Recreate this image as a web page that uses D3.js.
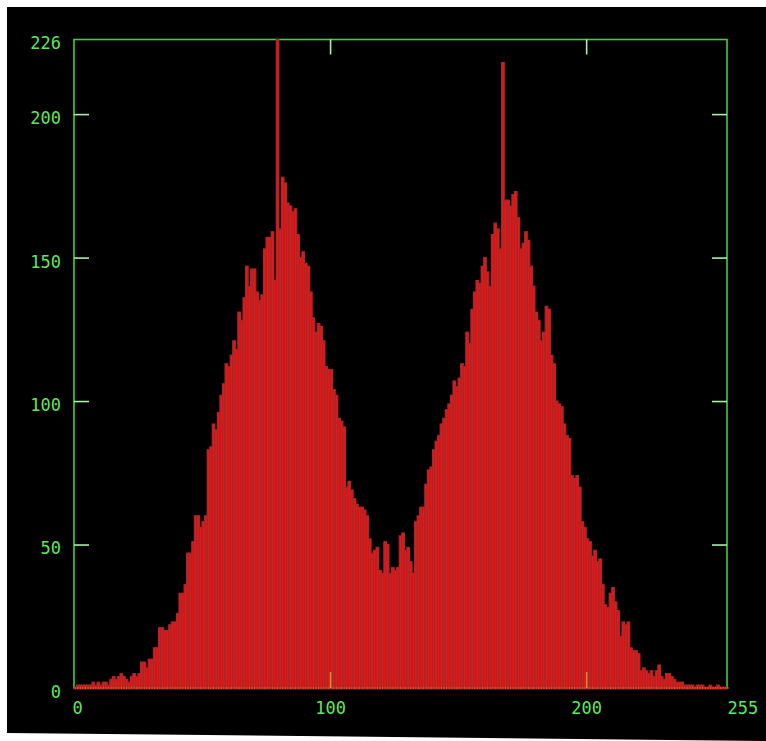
<!DOCTYPE html>
<html>
<head>
<meta charset="utf-8">
<script src="https://cdn.jsdelivr.net/npm/d3@7/dist/d3.min.js"></script>
<style>
  html, body { margin: 0; padding: 0; background: #ffffff; }
  svg { display: block; }
</style>
</head>
<body>
<svg id="chart" width="766" height="741"></svg>
<script>
// Histogram counts for intensity 0..255
const counts = [
  0, 1, 1, 1, 1, 1, 1, 2, 1, 2,
  1, 2, 2, 1, 3, 4, 3, 4, 5, 4,
  3, 2, 4, 5, 4, 5, 9, 9, 7, 10,
  10, 14, 14, 21, 21, 20, 20, 22, 23, 23,
  26, 33, 33, 36, 47, 47, 51, 60, 60, 56,
  58, 60, 83, 84, 92, 90, 96, 102, 106, 113,
  112, 116, 121, 118, 131, 128, 136, 147, 140, 146,
  146, 138, 135, 137, 153, 157, 157, 159, 142, 226,
  160, 178, 176, 169, 168, 166, 167, 158, 150, 152,
  148, 147, 138, 129, 124, 127, 126, 121, 112, 111,
  111, 104, 102, 94, 93, 91, 70, 72, 69, 66,
  64, 63, 63, 62, 60, 52, 47, 48, 49, 41,
  40, 51, 50, 40, 42, 41, 42, 53, 54, 48,
  49, 44, 40, 58, 60, 63, 63, 71, 76, 77,
  83, 86, 88, 92, 94, 97, 99, 102, 107, 105,
  108, 113, 112, 124, 120, 132, 138, 142, 141, 147,
  150, 145, 140, 158, 162, 160, 153, 218, 170, 170,
  168, 172, 173, 164, 153, 155, 159, 156, 147, 140,
  131, 128, 121, 124, 133, 132, 116, 113, 100, 99,
  98, 92, 88, 87, 74, 73, 74, 70, 58, 56,
  52, 51, 46, 48, 44, 45, 36, 29, 28, 33,
  35, 30, 27, 18, 23, 22, 23, 14, 13, 13,
  12, 6, 7, 6, 5, 6, 4, 6, 8, 4,
  3, 5, 5, 4, 3, 2, 2, 2, 1, 1,
  1, 1, 0, 1, 1, 1, 0, 0, 1, 0,
  0, 1, 0, 0, 0, 0
];
const yTickLabels = [0, 50, 100, 150, 200, 226];
const yInnerTicks = [50, 100, 150, 200];
const xTickLabels = [0, 100, 200, 255];
const xInnerTicks = [100, 200];

(function () {
const svg = d3.select("#chart");
const W = 766, H = 741;
const mLeft = 74, mRight = 727, mTop = 39.5, mBottom = 688;

// background (scanned black panel)
svg.append("polygon")
  .attr("points", `7,7 ${W},7 ${W},${H} 7,733`)
  .attr("fill", "#000");

const x = d3.scaleLinear().domain([0, 255]).range([mLeft, mRight]);
const y = d3.scaleLinear().domain([0, 226]).range([mBottom, mTop]);
const bw = x(1) - x(0);

const axisColor = "#3fcf3f";
const tickColor = "#a8f0a8";
const labelColor = "#5ee65e";
const font = "'DejaVu Sans Mono', monospace";

// frame
svg.append("rect")
  .attr("x", mLeft).attr("y", mTop)
  .attr("width", mRight - mLeft).attr("height", mBottom - mTop)
  .attr("fill", "none").attr("stroke", axisColor).attr("stroke-width", 1.6);

function styleTicks(g) {
  g.select(".domain").remove();
  g.selectAll("line").attr("stroke", tickColor).attr("stroke-width", 1.6);
  g.selectAll("text").remove();
}
svg.append("g").attr("transform", `translate(${mLeft},0)`)
  .call(d3.axisLeft(y).tickValues(yInnerTicks).tickSize(-15).tickFormat(""))
  .call(styleTicks);
svg.append("g").attr("transform", `translate(${mRight},0)`)
  .call(d3.axisRight(y).tickValues(yInnerTicks).tickSize(-15).tickFormat(""))
  .call(styleTicks);
svg.append("g").attr("transform", `translate(0,${mTop})`)
  .call(d3.axisTop(x).tickValues(xInnerTicks).tickSize(-15).tickFormat(""))
  .call(styleTicks);

// baseline
svg.append("line")
  .attr("x1", mLeft).attr("x2", mRight)
  .attr("y1", mBottom).attr("y2", mBottom)
  .attr("stroke", "#d01010").attr("stroke-width", 3);

// bars
svg.append("g").selectAll("rect")
  .data(counts)
  .join("rect")
  .attr("x", (d, i) => x(i))
  .attr("y", d => y(d))
  .attr("width", bw)
  .attr("height", d => y(0) - y(d))
  .attr("fill", "#f41212")
  .attr("stroke", "#a32a2a")
  .attr("stroke-width", 1.2);

// baseline dots
svg.append("g").selectAll("rect")
  .data(counts)
  .join("rect")
  .attr("x", (d, i) => x(i) + bw / 2 - 0.5)
  .attr("y", mBottom - 0.5)
  .attr("width", 1).attr("height", 1)
  .attr("fill", "#d8b030");

// bottom inner ticks (drawn over bars)
svg.append("g").attr("transform", `translate(0,${mBottom})`)
  .call(d3.axisBottom(x).tickValues(xInnerTicks).tickSize(-16).tickFormat(""))
  .call(g => {
    g.select(".domain").remove();
    g.selectAll("line").attr("stroke", "#d0b030").attr("stroke-width", 1.6).attr("opacity", 0.8);
  });

// Y labels
svg.append("g").attr("transform", `translate(${mLeft},4)`)
  .call(d3.axisLeft(y).tickValues(yTickLabels).tickSize(0).tickPadding(13).tickFormat(d3.format("d")))
  .call(g => {
    g.select(".domain").remove();
    g.selectAll("text").attr("fill", labelColor)
      .attr("font-family", font).attr("font-size", 17);
  });

// X labels
svg.append("g").attr("transform", `translate(0,${mBottom})`)
  .call(d3.axisBottom(x).tickValues(xTickLabels).tickSize(0).tickPadding(14).tickFormat(d3.format("d")))
  .call(g => {
    g.select(".domain").remove();
    g.selectAll("text").attr("fill", labelColor)
      .attr("font-family", font).attr("font-size", 17)
      .attr("text-anchor", d => (d === 0 || d === 255) ? "start" : "middle")
      .attr("dx", d => d === 0 ? -2 : 0);
  });
})();
</script>
</body>
</html>
